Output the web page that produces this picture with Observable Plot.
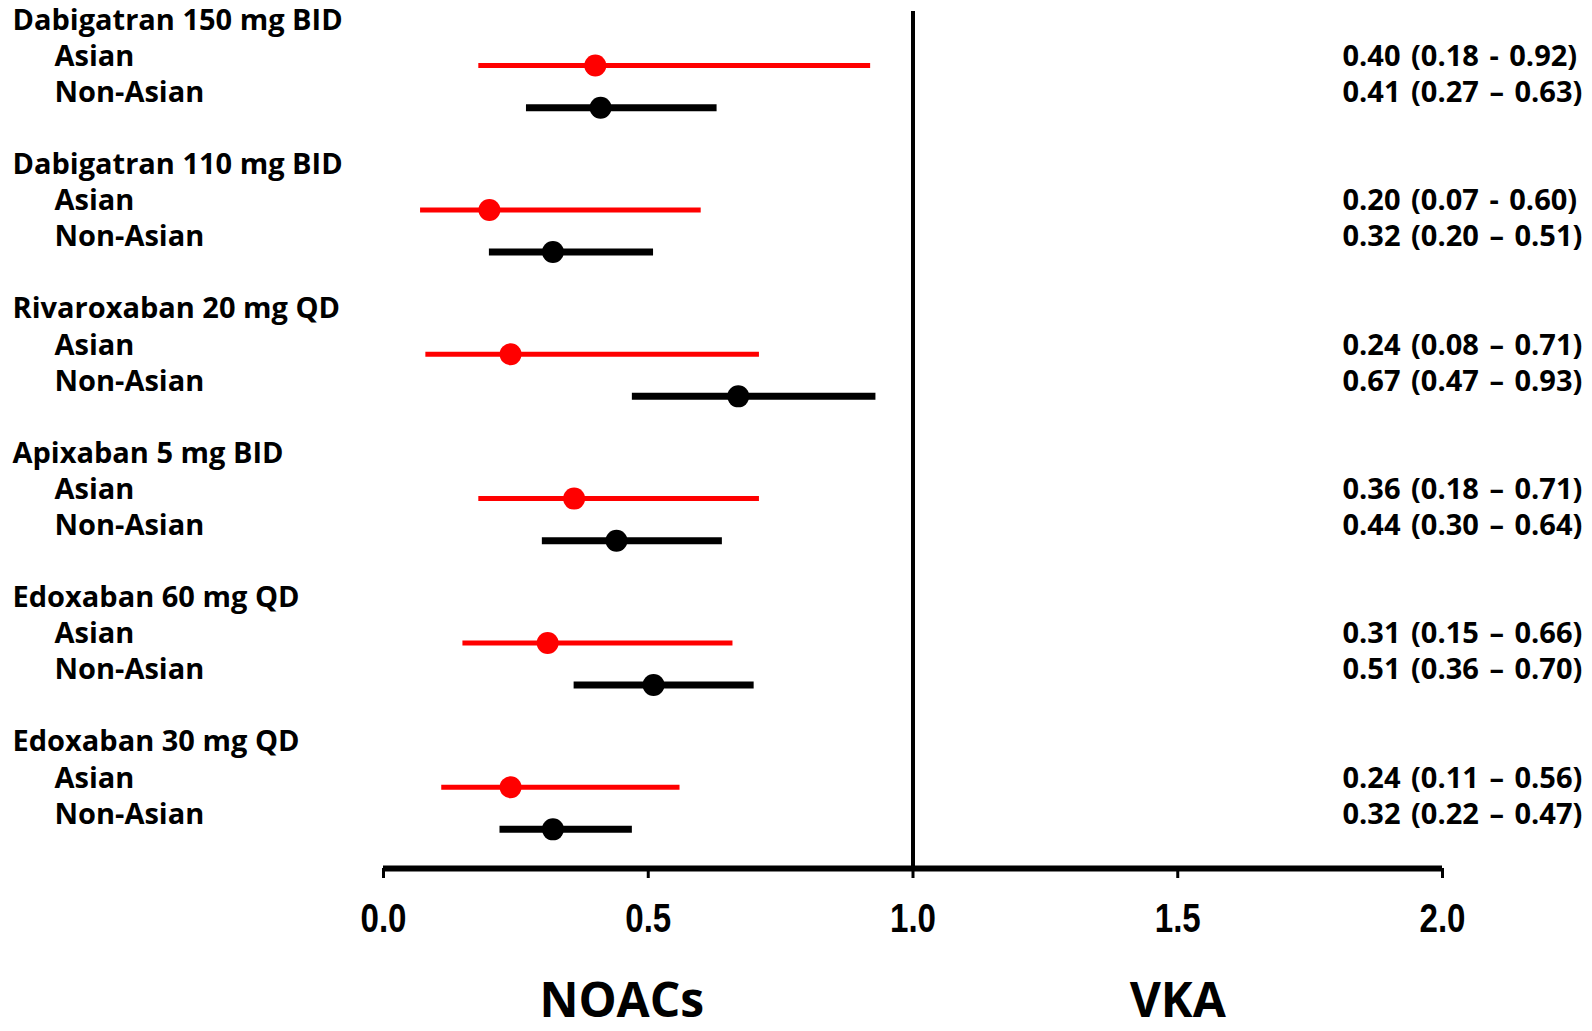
<!DOCTYPE html>
<html>
<head>
<meta charset="utf-8">
<script src="https://cdn.jsdelivr.net/npm/d3@7"></script>
<script src="https://cdn.jsdelivr.net/npm/@observablehq/plot@0.6"></script>
<style>
  html, body { margin: 0; padding: 0; background: #fff; }
  #chart svg { display: block; }
  .ci text { word-spacing: 3px; }
</style>
</head>
<body>
<div id="chart"></div>
<script>
// ---- data ----
const groups = ["Dabigatran 150 mg BID", "Dabigatran 110 mg BID", "Rivaroxaban 20 mg QD",
                "Apixaban 5 mg BID", "Edoxaban 60 mg QD", "Edoxaban 30 mg QD"];
const subgroups = ["Asian", "Non-Asian"];
const asianHR = [0.40, 0.20, 0.24, 0.36, 0.31, 0.24];
const asianLo = [0.18, 0.07, 0.08, 0.18, 0.15, 0.11];
const asianHi = [0.92, 0.60, 0.71, 0.71, 0.66, 0.56];
const nonAsianHR = [0.41, 0.32, 0.67, 0.44, 0.51, 0.32];
const nonAsianLo = [0.27, 0.20, 0.47, 0.30, 0.36, 0.22];
const nonAsianHi = [0.63, 0.51, 0.93, 0.64, 0.70, 0.47];
const asianText = ["0.40 (0.18 - 0.92)", "0.20 (0.07 - 0.60)", "0.24 (0.08 \u2013 0.71)",
                   "0.36 (0.18 \u2013 0.71)", "0.31 (0.15 \u2013 0.66)", "0.24 (0.11 \u2013 0.56)"];
const nonAsianText = ["0.41 (0.27 \u2013 0.63)", "0.32 (0.20 \u2013 0.51)", "0.67 (0.47 \u2013 0.93)",
                      "0.44 (0.30 \u2013 0.64)", "0.51 (0.36 \u2013 0.70)", "0.32 (0.22 \u2013 0.47)"];
const xTicks = [0, 0.5, 1.0, 1.5, 2.0];
const sideLabels = ["NOACs", "VKA"];
const sideLabelX = [0.45, 1.5];

// ---- tables built from the arrays ----
const ROWS_PER_GROUP = 4;
const AXIS_ROW = 23.5;
const headers = groups.map((g, i) => ({label: g, row: i * ROWS_PER_GROUP}));
const asian = groups.map((g, i) => ({label: subgroups[0], row: i * ROWS_PER_GROUP + 1,
  hr: asianHR[i], lo: asianLo[i], hi: asianHi[i], text: asianText[i]}));
const nonAsian = groups.map((g, i) => ({label: subgroups[1], row: i * ROWS_PER_GROUP + 2,
  hr: nonAsianHR[i], lo: nonAsianLo[i], hi: nonAsianHi[i], text: nonAsianText[i]}));
const subRows = asian.concat(nonAsian);
const sides = sideLabels.map((s, i) => ({label: s, x: sideLabelX[i]}));

const FONT = "'Open Sans', 'Noto Sans', sans-serif";
const LABEL_SIZE = 29;

const chart = Plot.plot({
  width: 1592,
  height: 1031,
  marginLeft: 383,
  marginRight: 150,
  marginTop: 20,
  marginBottom: 163,
  x: {domain: [0, 2], axis: null},
  y: {domain: [0, AXIS_ROW], reverse: true, axis: null},
  style: {fontFamily: FONT, fontWeight: "bold", background: "#fff", color: "#000", overflow: "visible"},
  marks: [
    // reference line at 1.0
    Plot.ruleX([1], {y1: -0.25, y2: AXIS_ROW, stroke: "#000", strokeWidth: 4}),
    // axis baseline
    Plot.ruleY([AXIS_ROW], {x1: 0, x2: 2, stroke: "#000", strokeWidth: 6}),
    Plot.axisX({
      ticks: xTicks, tickFormat: d => d.toFixed(1), tickSize: 10, tickPadding: 25,
      strokeWidth: 3, stroke: "#000", fill: "#000",
      fontSize: 40, fontFamily: "'Liberation Sans Narrow', 'Liberation Sans', sans-serif",
      fontWeight: "bold", label: null, className: "xticks"
    }),
    // confidence intervals
    Plot.ruleY(asian, {y: "row", x1: "lo", x2: "hi", stroke: "#ff0000", strokeWidth: 5, dy: 9}),
    Plot.ruleY(nonAsian, {y: "row", x1: "lo", x2: "hi", stroke: "#000", strokeWidth: 7, dy: 15}),
    Plot.dot(asian, {x: "hr", y: "row", r: 11, fill: "#ff0000", dy: 9}),
    Plot.dot(nonAsian, {x: "hr", y: "row", r: 11, fill: "#000", dy: 15}),
    // left labels
    Plot.text(headers, {y: "row", text: "label", frameAnchor: "left", dx: -371, textAnchor: "start",
      fontSize: LABEL_SIZE, fontFamily: FONT, fontWeight: "bold", fill: "#000"}),
    Plot.text(subRows, {y: "row", text: "label", frameAnchor: "left", dx: -329, textAnchor: "start",
      fontSize: LABEL_SIZE, fontFamily: FONT, fontWeight: "bold", fill: "#000"}),
    // right labels
    Plot.text(subRows, {y: "row", text: "text", frameAnchor: "right", dx: -100, textAnchor: "start",
      fontSize: LABEL_SIZE, fontFamily: FONT, fontWeight: "bold", fill: "#000", className: "ci"}),
    // bottom side labels
    Plot.text(sides, {x: "x", text: "label", frameAnchor: "bottom", dy: 148,
      fontSize: 48, fontFamily: FONT, fontWeight: "bold", fill: "#000"})
  ]
});
document.getElementById("chart").appendChild(chart);
// condense the tick labels like the original's narrow digits
d3.select(chart).selectAll(".xticks text")
  .attr("textLength", 46).attr("lengthAdjust", "spacingAndGlyphs");
</script>
</body>
</html>
